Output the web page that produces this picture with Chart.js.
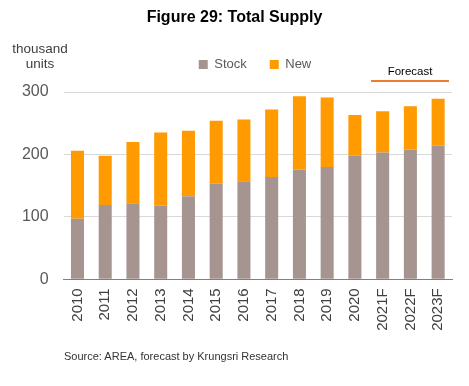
<!DOCTYPE html>
<html>
<head>
<meta charset="utf-8">
<script src="https://cdn.jsdelivr.net/npm/chart.js@4"></script>
<style>
  html, body { margin: 0; padding: 0; background: #fff; }
  #wrap { position: relative; width: 469px; height: 386px; overflow: hidden; font-family: "Liberation Sans", Arial, sans-serif; }
  #c { position: absolute; left: 0; top: 0; }
  .txt { position: absolute; white-space: nowrap; }
  #title { left: 0; width: 469px; top: 8px; text-align: center; font-weight: bold; font-size: 16px; color: #000; }
  #unit { left: 6px; width: 68px; top: 41px; text-align: center; font-size: 13.5px; line-height: 15px; color: #404040; }
  #fc { left: 371px; width: 78px; top: 65px; text-align: center; font-size: 11.5px; color: #000; }
  #fcline { position: absolute; left: 371px; top: 80px; width: 78px; height: 2px; background: #ED7D31; }
  #src { left: 64px; top: 350px; font-size: 11px; color: #333; }
</style>
</head>
<body>
<div id="wrap">
  <canvas id="c" width="469" height="386"></canvas>
  <div class="txt" id="title">Figure 29: Total Supply</div>
  <div class="txt" id="unit">thousand<br>units</div>
  <div class="txt" id="fc">Forecast</div>
  <div id="fcline"></div>
  <div class="txt" id="src">Source: AREA, forecast by Krungsri Research</div>
</div>
<script>
const categories = ["2010","2011","2012","2013","2014","2015","2016","2017","2018","2019","2020","2021F","2022F","2023F"];
const stockValues = [97, 119, 122, 118, 133, 153, 157, 164, 176, 180, 198, 203, 208, 214];
const newValues   = [109, 79, 98, 117, 105, 101, 99, 108, 117, 111, 65, 66, 69, 75];
const yTicks = [0, 100, 200, 300];

const legendFix = {
  id: 'legendFix',
  beforeInit(chart) {
    const origFit = chart.legend.fit;
    chart.legend.fit = function () {
      origFit.call(this);
      this.height = 92;
    };
  },
  afterLayout(chart) {
    chart.legend.left = 58;
    chart.legend.top = 35;
  }
};

new Chart(document.getElementById('c'), {
  type: 'bar',
  data: {
    labels: categories,
    datasets: [
      { label: 'Stock', data: stockValues, backgroundColor: '#A69491', barPercentage: 0.47, categoryPercentage: 1 },
      { label: 'New', data: newValues, backgroundColor: '#FF9A00', barPercentage: 0.47, categoryPercentage: 1 }
    ]
  },
  options: {
    responsive: false,
    animation: false,
    layout: { padding: { left: 0, right: 17, top: 0, bottom: 0 } },
    plugins: {
      title: { display: false },
      tooltip: { enabled: false },
      legend: {
        display: true,
        position: 'top',
        labels: {
          boxWidth: 9, boxHeight: 9, padding: 23,
          color: '#595959',
          font: { family: "'Liberation Sans', Arial, sans-serif", size: 13 }
        }
      }
    },
    scales: {
      x: {
        stacked: true,
        grid: { display: false, drawTicks: false },
        border: { display: true, color: '#808080', width: 1 },
        ticks: {
          minRotation: 90, maxRotation: 90, padding: 9,
          color: '#404040',
          font: { family: "'Liberation Sans', Arial, sans-serif", size: 15 }
        },
        afterFit(s) { s.height = 106.7; }
      },
      y: {
        stacked: true,
        min: 0, max: 300,
        afterBuildTicks(s) { s.ticks = yTicks.map(v => ({ value: v })); },
        grid: { color: '#D9D9D9', drawTicks: false },
        border: { display: false },
        ticks: {
          padding: 15,
          color: '#595959',
          font: { family: "'Liberation Sans', Arial, sans-serif", size: 16 }
        },
        afterFit(s) { s.width = 63.6; }
      }
    }
  },
  plugins: [legendFix]
});
</script>
</body>
</html>
